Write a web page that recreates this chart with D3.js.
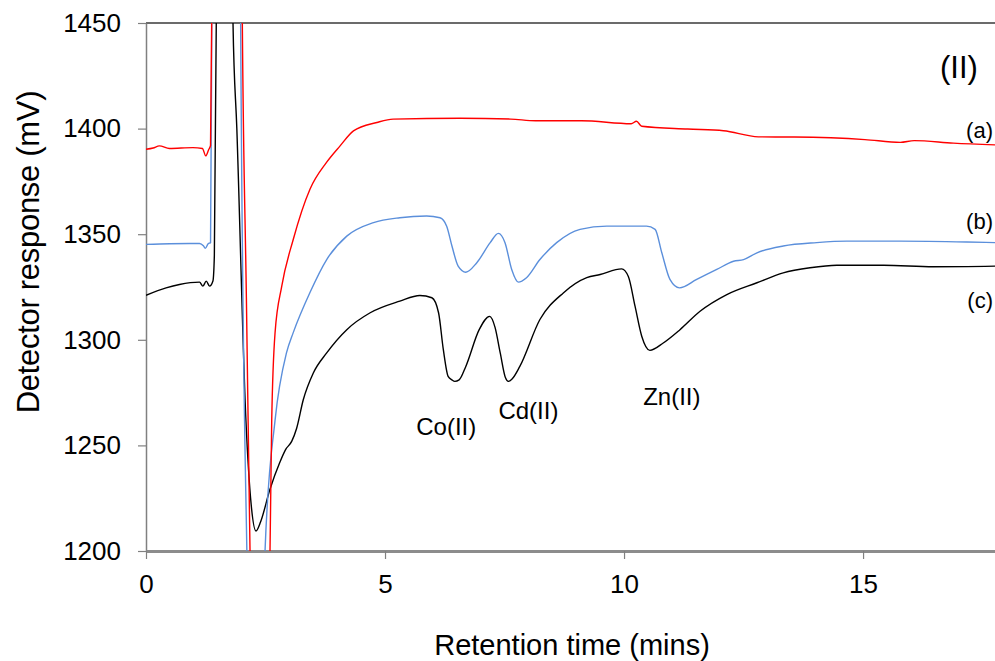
<!DOCTYPE html>
<html>
<head>
<meta charset="utf-8">
<script src="https://cdn.jsdelivr.net/npm/d3@7"></script>
<style>
  body { margin: 0; background: #fff; }
  svg { display: block; font-family: "Liberation Sans", Arial, Helvetica, sans-serif; }
</style>
</head>
<body>
<svg id="chart" width="995" height="661"></svg>
<script>
// Axis ticks
const xTicks = [0, 5, 10, 15];
const yTicks = [1200, 1250, 1300, 1350, 1400, 1450];

// Trace (a): retention time (mins) and detector response (mV)
const timeA = [0.00, 0.15, 0.28, 0.49, 0.98, 1.18, 1.25, 1.31, 1.35, 1.38, 1.41, 1.97, 2.015, 2.10, 2.176, 2.25, 2.45, 2.594, 2.63, 2.70, 2.84, 3.08, 3.43, 3.78, 4.06, 4.34, 4.83, 5.17, 6.57, 7.63, 8.15, 9.11, 10.15, 10.26, 10.37, 11.33, 12.08, 12.81, 13.56, 15.04, 15.78, 16.07, 16.89, 17.76];
const mvA   = [1390.2, 1390.8, 1391.8, 1390.6, 1391.0, 1390.6, 1387.1, 1390.0, 1392.0, 1470, 1600, 1600, 1450, 1320, 1200, 1120, 1110, 1200, 1262, 1303.4, 1325.4, 1347.5, 1371.3, 1384.1, 1391.8, 1398.9, 1402.9, 1404.5, 1404.9, 1404.5, 1403.7, 1403.7, 1402.3, 1403.5, 1401.1, 1399.8, 1399.0, 1396.1, 1396.0, 1394.8, 1393.5, 1394.3, 1393.1, 1392.3];

// Trace (b)
const timeB = [0.00, 0.50, 1.12, 1.20, 1.24, 1.30, 1.35, 1.38, 1.41, 1.95, 1.98, 2.11, 2.20, 2.40, 2.49, 2.70, 2.94, 3.08, 3.43, 3.78, 4.20, 4.76, 5.31, 5.87, 6.15, 6.29, 6.40, 6.53, 6.69, 6.92, 7.20, 7.37, 7.51, 7.65, 7.79, 7.96, 8.24, 8.59, 9.08, 9.64, 10.47, 10.65, 10.79, 10.96, 11.16, 11.52, 11.94, 12.29, 12.50, 12.78, 13.33, 14.03, 14.66, 15.77, 17.17, 17.76];
const mvB   = [1345.2, 1345.5, 1345.6, 1344.5, 1343.3, 1345.5, 1346.0, 1470, 1600, 1600, 1450, 1200, 1120, 1120, 1200, 1262, 1293.9, 1303.4, 1322.4, 1338.0, 1349.1, 1355.5, 1357.8, 1358.6, 1357.8, 1353.8, 1344.4, 1334.9, 1332.0, 1336.5, 1346.0, 1350.4, 1346.0, 1333.3, 1327.3, 1329.4, 1338.0, 1346.0, 1352.3, 1353.8, 1353.8, 1352.3, 1341.2, 1328.6, 1324.6, 1328.6, 1333.3, 1337.2, 1338.0, 1341.2, 1344.4, 1346.0, 1346.7, 1346.7, 1346.3, 1346.0];

// Trace (c)
const timeC = [0.00, 0.42, 0.70, 1.12, 1.19, 1.26, 1.33, 1.40, 1.43, 1.47, 1.50, 1.78, 1.82, 1.90, 2.09, 2.20, 2.30, 2.40, 2.59, 2.80, 2.92, 3.05, 3.15, 3.29, 3.50, 3.78, 4.20, 4.69, 5.31, 5.73, 5.98, 6.12, 6.22, 6.32, 6.40, 6.46, 6.55, 6.69, 6.97, 7.19, 7.30, 7.41, 7.52, 7.58, 7.66, 7.82, 8.24, 8.73, 9.22, 9.50, 9.95, 10.09, 10.23, 10.37, 10.54, 10.82, 11.17, 11.59, 12.15, 12.78, 13.33, 13.89, 14.45, 15.43, 16.47, 17.76];
const mvC   = [1321.1, 1324.6, 1326.2, 1327.3, 1325.4, 1327.8, 1325.4, 1327.8, 1340, 1450, 1600, 1600, 1450, 1400, 1262, 1222, 1209.5, 1214, 1229, 1242, 1248, 1252, 1258, 1271.6, 1284.3, 1293.8, 1304.8, 1312.8, 1318.3, 1321.0, 1319.9, 1312.8, 1295.3, 1282.7, 1281.0, 1280.3, 1281.0, 1287.4, 1304.8, 1311.1, 1306.0, 1293.8, 1282.0, 1280.3, 1281.5, 1287.4, 1309.6, 1322.2, 1329.4, 1330.9, 1333.6, 1330.0, 1315.9, 1301.7, 1295.0, 1298.5, 1304.8, 1313.5, 1321.4, 1327.0, 1331.7, 1334.1, 1335.3, 1335.3, 1334.6, 1334.9];

// Peak annotations
const peakNames = ["Co(II)", "Cd(II)", "Zn(II)"];
const peakLabelT = [6.28, 8.00, 11.00];
const peakLabelV = [1254.9, 1262.4, 1269.1];

// Trace labels
const traceNames = ["(a)", "(b)", "(c)"];
const traceLabelV = [1395.5, 1352.5, 1315.1];
const traceColors = ["#ff0000", "#5b8fdb", "#000000"];

const svg = d3.select("#chart");
const plotLeft = 146, plotRight = 995, plotTop = 23, plotBottom = 551;

const x = d3.scaleLinear().domain([0, 17.76]).range([plotLeft, plotRight]);
const y = d3.scaleLinear().domain([1200, 1450]).range([plotBottom, plotTop]);

svg.append("defs").append("clipPath").attr("id", "plotClip")
  .append("rect").attr("x", plotLeft).attr("y", plotTop)
  .attr("width", plotRight - plotLeft).attr("height", plotBottom - plotTop);

// Frame top line
svg.append("line").attr("x1", plotLeft).attr("x2", plotRight).attr("y1", plotTop).attr("y2", plotTop)
  .attr("stroke", "#3a3a3a").attr("stroke-width", 1.5);

// Y axis
const yAxis = svg.append("g").attr("transform", `translate(${plotLeft},0)`)
  .call(d3.axisLeft(y).tickValues(yTicks).tickSize(8).tickSizeOuter(0).tickPadding(17).tickFormat(d3.format("d")));
yAxis.select(".domain").attr("stroke", "#808080").attr("stroke-width", 1.5);
yAxis.selectAll(".tick line").attr("stroke", "#808080").attr("stroke-width", 1.2);
yAxis.selectAll(".tick text").attr("font-size", 26).attr("fill", "#000")
  .attr("font-family", "'Liberation Sans', Arial, sans-serif");

// X axis
const xAxis = svg.append("g").attr("transform", `translate(0,${plotBottom})`)
  .call(d3.axisBottom(x).tickValues(xTicks).tickSize(8).tickSizeOuter(0).tickPadding(16).tickFormat(d3.format("d")));
xAxis.select(".domain").attr("stroke", "#8c8c8c").attr("stroke-width", 3);
xAxis.selectAll(".tick line").attr("stroke", "#808080").attr("stroke-width", 1.2);
xAxis.selectAll(".tick text").attr("font-size", 26).attr("fill", "#000")
  .attr("font-family", "'Liberation Sans', Arial, sans-serif");

// Axis titles
svg.append("text").attr("x", 572).attr("y", 655)
  .attr("text-anchor", "middle").attr("font-size", 29).text("Retention time (mins)");
svg.append("text").attr("transform", "translate(39,252) rotate(-90)")
  .attr("text-anchor", "middle").attr("font-size", 31).attr("letter-spacing", -0.3)
  .text("Detector response (mV)");

// Traces
const line = d3.line().x(d => x(d[0])).y(d => y(d[1])).curve(d3.curveMonotoneX);
const series = [
  d3.zip(timeA, mvA),
  d3.zip(timeB, mvB),
  d3.zip(timeC, mvC)
];
const plot = svg.append("g").attr("clip-path", "url(#plotClip)");
// black underneath, red on top
[2, 1, 0].forEach(i => {
  plot.append("path").datum(series[i]).attr("d", line)
    .attr("fill", "none").attr("stroke", traceColors[i]).attr("stroke-width", 1.4)
    .attr("stroke-linejoin", "round");
});

// Peak labels
peakNames.forEach((n, i) => {
  svg.append("text").attr("x", x(peakLabelT[i])).attr("y", y(peakLabelV[i]))
    .attr("text-anchor", "middle").attr("font-size", 24).text(n);
});

// Trace labels
traceNames.forEach((n, i) => {
  svg.append("text").attr("x", 993).attr("y", y(traceLabelV[i]))
    .attr("text-anchor", "end").attr("font-size", 22).text(n);
});

// Panel label
svg.append("text").attr("x", 940).attr("y", 78).attr("font-size", 31).text("(II)");
</script>
</body>
</html>
